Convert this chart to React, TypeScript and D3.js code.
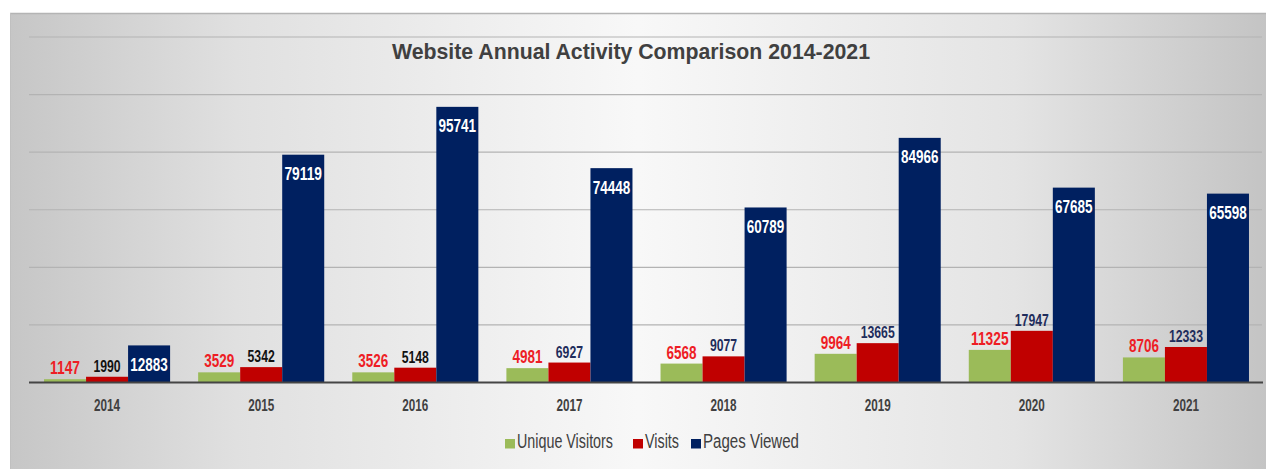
import React, { useLayoutEffect, useRef, useState } from "react";
import * as d3 from "d3";

const years = ["2014", "2015", "2016", "2017", "2018", "2019", "2020", "2021"];
const seriesNames = ["Unique Visitors", "Visits", "Pages Viewed"];
const uniqueVisitors = [1147, 3529, 3526, 4981, 6568, 9964, 11325, 8706];
const visits = [1990, 5342, 5148, 6927, 9077, 13665, 17947, 12333];
const pagesViewed = [12883, 79119, 95741, 74448, 60789, 84966, 67685, 65598];
const yTicks = [0, 20000, 40000, 60000, 80000, 100000, 120000];
const title = "Website Annual Activity Comparison 2014-2021";

const W = 1266;
const H = 469;
const COLORS = ["#9bbb59", "#c00000", "#002060"];
const FONT = "'Liberation Sans Narrow', 'Liberation Sans', Arial, sans-serif";
const TEXT_DARK = "#404040";

function FitText(props: {
  x: number;
  y: number;
  width: number;
  fontSize: number;
  fill: string;
  children: string;
}) {
  const ref = useRef<SVGTextElement>(null);
  const [sx, setSx] = useState(0.72);
  useLayoutEffect(() => {
    if (ref.current) {
      const natural = ref.current.getComputedTextLength();
      if (natural > 0) setSx(props.width / natural);
    }
  }, [props.width, props.children]);
  return (
    <text
      ref={ref}
      transform={`translate(${props.x},${props.y}) scale(${sx},1)`}
      fontFamily={FONT}
      fontSize={props.fontSize}
      fill={props.fill}
    >
      {props.children}
    </text>
  );
}

export default function App() {
  const series = [uniqueVisitors, visits, pagesViewed];
  const x0 = d3
    .scaleBand<string>()
    .domain(years)
    .range([30, 1263])
    .paddingInner(0.182)
    .paddingOuter(0.091);
  const x1 = d3
    .scaleBand<number>()
    .domain([0, 1, 2])
    .range([0, x0.bandwidth()])
    .padding(0);
  const y = d3.scaleLinear().domain([0, 120000]).range([382.5, 37]);

  const visitsLabelColor = (i: number) => (i < 3 ? "#111111" : "#1f2d5c");

  const legendWidths = [96, 34, 96];
  const legendGaps = [20, 12, 0];
  const textOffset = 12;
  let lx = 505;
  const legendPos = seriesNames.map((_, i) => {
    const p = lx;
    lx += textOffset + legendWidths[i] + legendGaps[i];
    return p;
  });

  return (
    <svg
      width={W}
      height={H}
      style={{ position: "absolute", left: 0, top: 0, display: "block" }}
    >
      <defs>
        <linearGradient id="bg" x1="0" x2="1" y1="0" y2="0">
          <stop offset="0" stopColor="#c6c6c6" />
          <stop offset="0.18" stopColor="#e0e0e0" />
          <stop offset="0.5" stopColor="#f8f8f8" />
          <stop offset="0.8" stopColor="#e4e4e4" />
          <stop offset="1" stopColor="#c4c4c4" />
        </linearGradient>
      </defs>
      <rect x={0} y={0} width={W} height={H} fill="#ffffff" />
      <rect x={10} y={13} width={W - 10} height={H - 13} fill="url(#bg)" />
      <line x1={10} x2={W} y1={13.5} y2={13.5} stroke="#b4b4b4" strokeWidth={1.5} />
      <line x1={10.5} x2={10.5} y1={13} y2={H} stroke="#c0c0c0" strokeWidth={1} />

      <text
        x={631}
        y={58.5}
        textAnchor="middle"
        fontFamily={FONT}
        fontWeight="bold"
        fontSize={22.5}
        fill={TEXT_DARK}
        textLength={478}
        lengthAdjust="spacingAndGlyphs"
      >
        {title}
      </text>

      {yTicks
        .filter((t) => t > 0)
        .map((t) => (
          <line
            key={t}
            x1={29}
            x2={1262}
            y1={y(t)}
            y2={y(t)}
            stroke="#b3b3b3"
            strokeWidth={1.2}
          />
        ))}

      {years.map((yr, i) => (
        <g key={yr} transform={`translate(${x0(yr)},0)`}>
          {series.map((s, k) => (
            <rect
              key={k}
              x={x1(k)}
              y={y(s[i])}
              width={x1.bandwidth()}
              height={y(0) - y(s[i])}
              fill={COLORS[k]}
            />
          ))}
          <text
            x={(x1(0) as number) + x1.bandwidth() / 2}
            y={y(uniqueVisitors[i]) - 5}
            textAnchor="middle"
            fontFamily={FONT}
            fontWeight="bold"
            fontSize={18}
            fill="#ee1d25"
            textLength={String(uniqueVisitors[i]).length * 7.5}
            lengthAdjust="spacingAndGlyphs"
          >
            {uniqueVisitors[i]}
          </text>
          <text
            x={(x1(1) as number) + x1.bandwidth() / 2}
            y={y(visits[i]) - 5}
            textAnchor="middle"
            fontFamily={FONT}
            fontWeight="bold"
            fontSize={17}
            fill={visitsLabelColor(i)}
            textLength={String(visits[i]).length * 6.8}
            lengthAdjust="spacingAndGlyphs"
          >
            {visits[i]}
          </text>
          <text
            x={(x1(2) as number) + x1.bandwidth() / 2}
            y={y(pagesViewed[i]) + 25.5}
            textAnchor="middle"
            fontFamily={FONT}
            fontWeight="bold"
            fontSize={17.5}
            fill="#ffffff"
            textLength={String(pagesViewed[i]).length * 7.5}
            lengthAdjust="spacingAndGlyphs"
          >
            {pagesViewed[i]}
          </text>
          <text
            x={x0.bandwidth() / 2}
            y={411}
            textAnchor="middle"
            fontFamily={FONT}
            fontWeight="bold"
            fontSize={16.5}
            fill={TEXT_DARK}
            textLength={26}
            lengthAdjust="spacingAndGlyphs"
          >
            {yr}
          </text>
        </g>
      ))}

      <line
        x1={29}
        x2={1263}
        y1={y(0)}
        y2={y(0)}
        stroke="#454545"
        strokeWidth={2.2}
      />

      {seriesNames.map((name, i) => (
        <g key={name}>
          <rect x={legendPos[i]} y={439} width={10} height={9.5} fill={COLORS[i]} />
          <FitText
            x={legendPos[i] + textOffset}
            y={448}
            width={legendWidths[i]}
            fontSize={20}
            fill={TEXT_DARK}
          >
            {name}
          </FitText>
        </g>
      ))}
    </svg>
  );
}
